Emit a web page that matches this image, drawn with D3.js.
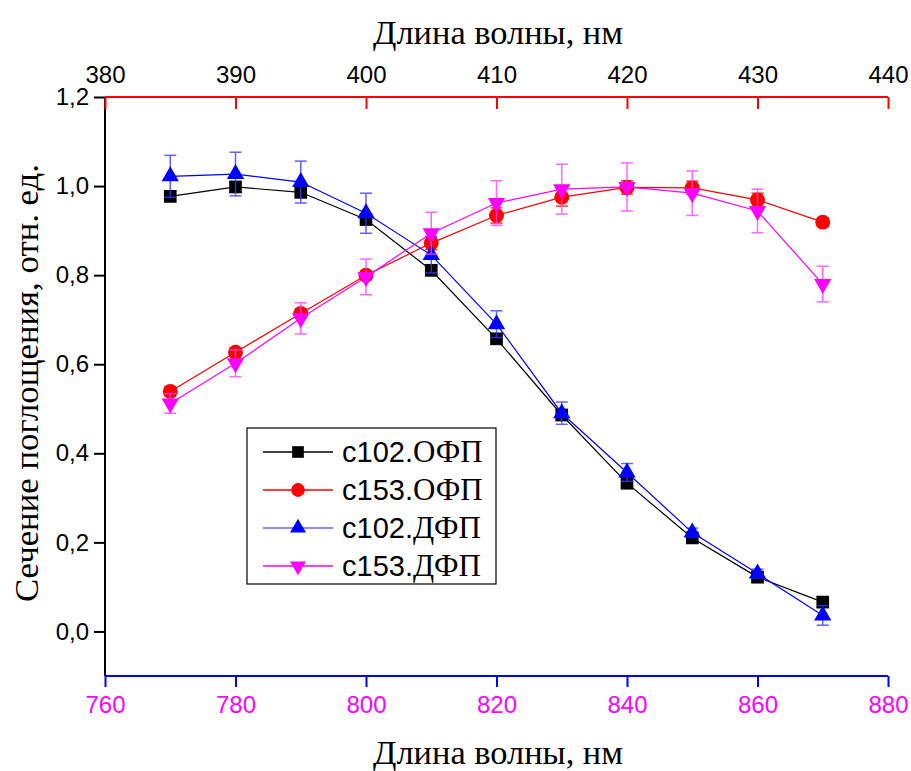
<!doctype html>
<html lang="en">
<head>
  <meta charset="utf-8">
  <title>Сечение поглощения</title>
  <style>
    * { margin: 0; padding: 0; box-sizing: border-box; }
    body { background: #fff; }
    .tick text { font-family: "Liberation Sans", Arial, sans-serif; }
  </style>
</head>
<body>
  <div id="container"></div>
  <script src="https://cdn.jsdelivr.net/npm/d3@7"></script>
  <script>
    // wavelength, nm (bottom axis); top axis is half of it
    const wl = [770, 780, 790, 800, 810, 820, 830, 840, 850, 860, 870];

    const c102ofp    = [0.977, 0.998, 0.986, 0.925, 0.811, 0.657, 0.486, 0.333, 0.210, 0.122, 0.066];
    const c102ofpErr = [0.012, 0.012, 0.012, 0.012, 0.012, 0.012, 0.012, 0.012, 0.012, 0.012, 0.012];
    const c153ofp    = [0.539, 0.627, 0.714, 0.800, 0.872, 0.934, 0.975, 0.997, 0.996, 0.969, 0.919];
    const c153ofpErr = [0.010, 0.010, 0.010, 0.010, 0.015, 0.017, 0.020, 0.015, 0.015, 0.015, 0.010];
    const c102dfp    = [1.022, 1.027, 1.009, 0.939, 0.845, 0.690, 0.490, 0.357, 0.222, 0.130, 0.036];
    const c102dfpErr = [0.047, 0.049, 0.047, 0.045, 0.040, 0.030, 0.025, 0.020, 0.010, 0.010, 0.022];
    const c153dfp    = [0.512, 0.602, 0.703, 0.796, 0.894, 0.962, 0.993, 0.998, 0.984, 0.944, 0.780];
    const c153dfpErr = [0.022, 0.030, 0.035, 0.040, 0.047, 0.050, 0.056, 0.054, 0.050, 0.049, 0.040];

    const seriesNames = ['c102.', 'c153.', 'c102.', 'c153.'];
    const seriesSuffix = ['ОФП', 'ОФП', 'ДФП', 'ДФП'];

    const yTicks = [0, 0.2, 0.4, 0.6, 0.8, 1.0, 1.2];
    const bottomTicks = [760, 780, 800, 820, 840, 860, 880];
    const topTicks = [380, 390, 400, 410, 420, 430, 440];

    const W = 911, H = 771;
    const pL = 105, pR = 888, pT = 97, pB = 676;

    const svg = d3.select('#container').append('svg').attr('width', W).attr('height', H);

    const x = d3.scaleLinear().domain([760, 880]).range([pL, pR]);
    const xTop = d3.scaleLinear().domain([380, 440]).range([pL, pR]);
    const y = d3.scaleLinear().domain([-0.1, 1.2]).range([pB, pT]);

    const comma = v => d3.format('.1f')(v).replace('.', ',');

    // left axis (black)
    const gl = svg.append('g').attr('transform', `translate(${pL},0)`);
    gl.call(d3.axisLeft(y).tickValues(d3.range(-0.1, 1.21, 0.1).map(v => +v.toFixed(1))).tickSize(6).tickFormat(''));
    gl.call(d3.axisLeft(y).tickValues(yTicks).tickSize(11).tickFormat(comma));
    gl.selectAll('path,line').attr('stroke', '#000').attr('stroke-width', 2);
    gl.selectAll('.tick text').attr('font-size', 24).attr('fill', '#000').attr('x', -16);

    // bottom axis (blue, magenta labels)
    const gb = svg.append('g').attr('transform', `translate(0,${pB})`);
    gb.call(d3.axisBottom(x).tickValues(d3.range(770, 880, 20)).tickSize(6).tickFormat(''));
    gb.call(d3.axisBottom(x).tickValues(bottomTicks).tickSize(11));
    gb.selectAll('path,line').attr('stroke', '#0000ff').attr('stroke-width', 2);
    gb.selectAll('.tick text').attr('font-size', 24).attr('fill', '#ff00ff').attr('y', 20);

    // top axis (red, ticks inward, black labels)
    const gt = svg.append('g').attr('transform', `translate(0,${pT})`);
    gt.call(d3.axisTop(xTop).tickValues(d3.range(385, 440, 10)).tickSize(-6).tickFormat(''));
    gt.call(d3.axisTop(xTop).tickValues(topTicks).tickSize(-12));
    gt.selectAll('path,line').attr('stroke', '#ff0000').attr('stroke-width', 2);
    gt.selectAll('.tick text').attr('font-size', 24).attr('fill', '#000').attr('y', -14);
    gt.select('.domain').attr('d', `M${pL},0H${pR}`);
    gb.select('.domain').attr('d', `M${pL},0H${pR}`);
    gl.select('.domain').attr('d', `M0,${pT}V${pB}`);

    // titles
    svg.append('text').attr('x', 498).attr('y', 44).attr('text-anchor', 'middle')
      .attr('font-family', '"Liberation Serif", "Times New Roman", serif').attr('font-size', 34)
      .attr('textLength', 250).attr('lengthAdjust', 'spacingAndGlyphs')
      .text('Длина волны, нм');
    svg.append('text').attr('x', 498).attr('y', 764).attr('text-anchor', 'middle')
      .attr('font-family', '"Liberation Serif", "Times New Roman", serif').attr('font-size', 34)
      .attr('textLength', 250).attr('lengthAdjust', 'spacingAndGlyphs')
      .text('Длина волны, нм');
    svg.append('text').attr('transform', 'translate(38,383) rotate(-90)').attr('text-anchor', 'middle')
      .attr('font-family', '"Liberation Serif", "Times New Roman", serif').attr('font-size', 34)
      .attr('textLength', 438).attr('lengthAdjust', 'spacingAndGlyphs')
      .text('Сечение поглощения, отн. ед.');

    const series = [
      { vals: c102ofp, err: c102ofpErr, color: '#000000', errColor: '#000000', line: '#000', sym: d3.symbolSquare, size: 160, rot: 0 },
      { vals: c153ofp, err: c153ofpErr, color: '#ff0000', errColor: '#ff0000', line: '#ff0000', sym: d3.symbolCircle, size: 175, rot: 0 },
      { vals: c102dfp, err: c102dfpErr, color: '#0000ff', errColor: '#3b3bff', line: '#0000ff', sym: d3.symbolTriangle, size: 130, rot: 0 },
      { vals: c153dfp, err: c153dfpErr, color: '#ff00ff', errColor: '#ff44ff', line: '#ff00ff', sym: d3.symbolTriangle, size: 130, rot: 180 }
    ];

    const line = d3.line().x((d, i) => x(wl[i])).y(d => y(d));

    series.forEach(s => {
      const g = svg.append('g');
      g.append('path').attr('d', line(s.vals)).attr('fill', 'none').attr('stroke', s.line).attr('stroke-width', 1.2);
      const eb = g.append('g').attr('stroke', s.errColor).attr('stroke-width', 1.5).attr('opacity', 0.8);
      s.vals.forEach((v, i) => {
        const cx = x(wl[i]), y0 = y(v - s.err[i]), y1 = y(v + s.err[i]);
        eb.append('line').attr('x1', cx).attr('x2', cx).attr('y1', y0).attr('y2', y1);
        eb.append('line').attr('x1', cx - 6).attr('x2', cx + 6).attr('y1', y0).attr('y2', y0);
        eb.append('line').attr('x1', cx - 6).attr('x2', cx + 6).attr('y1', y1).attr('y2', y1);
      });
      g.selectAll('path.m').data(s.vals).join('path').attr('class', 'm')
        .attr('d', d3.symbol(s.sym, s.size))
        .attr('transform', (d, i) => `translate(${x(wl[i])},${y(d)}) rotate(${s.rot})`)
        .attr('fill', s.color);
    });

    // legend
    const lg = svg.append('g').attr('transform', 'translate(247,428)');
    lg.append('rect').attr('width', 249).attr('height', 156).attr('fill', '#fff').attr('stroke', '#000').attr('stroke-width', 1.2);
    series.forEach((s, i) => {
      const ry = 24 + i * 38;
      lg.append('line').attr('x1', 16).attr('x2', 86).attr('y1', ry).attr('y2', ry)
        .attr('stroke', s.line).attr('stroke-width', 1.5).attr('opacity', i === 2 ? 0.6 : 1);
      lg.append('path').attr('d', d3.symbol(s.sym, s.size * 0.85)).attr('transform', `translate(51,${ry}) rotate(${s.rot})`).attr('fill', s.color);
      const t = lg.append('text').attr('x', 95).attr('y', ry + 10).attr('font-size', 29);
      t.append('tspan').attr('font-family', '"Liberation Sans", Arial, sans-serif').text(seriesNames[i]);
      t.append('tspan').attr('font-family', '"Liberation Serif", "Times New Roman", serif').attr('font-size', 31).text(seriesSuffix[i]);
    });
  </script>
</body>
</html>
